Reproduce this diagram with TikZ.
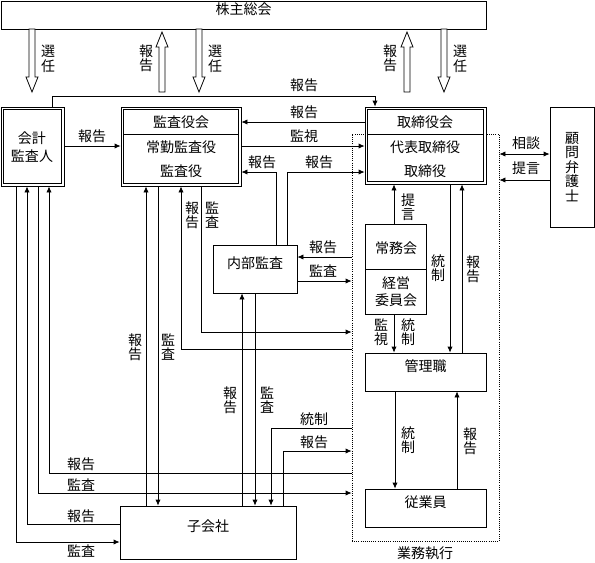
\documentclass[tikz,border=0pt]{standalone}
\usepackage{fontspec}
\setmainfont{Noto Sans CJK JP}
\usetikzlibrary{arrows.meta,fit}
\newcommand\hollowdown[3]{\draw[ln, fill=white] ({#1-3},#2) -- ({#1-3},{#3-15}) -- ({#1-6},{#3-15}) -- (#1,#3) -- ({#1+6},{#3-15}) -- ({#1+3},{#3-15}) -- ({#1+3},#2) -- cycle;}
\newcommand\hollowup[3]{\draw[ln, fill=white] ({#1-3},#2) -- ({#1-3},{#3+15}) -- ({#1-6},{#3+15}) -- (#1,#3) -- ({#1+6},{#3+15}) -- ({#1+3},{#3+15}) -- ({#1+3},#2) -- cycle;}
\newcommand\innerframe[1]{\draw[ln] ([shift={(2.2pt,-2.2pt)}]#1.north west) rectangle ([shift={(-2.2pt,2.2pt)}]#1.south east);}
\begin{document}
\begin{tikzpicture}[x=0.75pt,y=-0.75pt, font=\fontsize{10.5}{11}\selectfont,
 ln/.style={line width=0.6pt},
 box/.style={draw, fill=white, line width=0.6pt, inner sep=0pt},
 arr/.style={ln, -{Latex[length=4.5pt,width=4pt]}},
 arrb/.style={ln, {Latex[length=4.5pt,width=4pt]}-{Latex[length=4.5pt,width=4pt]}},
 lab/.style={inner sep=0pt, align=center},
 vlab/.style={lab, font=\fontsize{10.5}{10.8}\selectfont},
]
\useasboundingbox (0,0) rectangle (595,562);
% execution region
\node[draw, densely dotted, line width=0.6pt, inner sep=0pt, fit={(352,134) (499,541)}] (gyomu) {};
\node[lab] (gyomulab) at (425,553) {業務執行};
% boxes
\node[box, fit={(1,1) (486,29)}] (soukai) {株主総会};
\node[box, fit={(1,107) (64,186)}] (kaikei) {};
\innerframe{kaikei}
\node[lab, font=\fontsize{10.5}{14}\selectfont] (kaikeit) at (32,147) {会計\\監査人};
\node[box, fit={(121,107) (241,186)}] (kansa) {};
\innerframe{kansa}
\draw[ln] (124,134) -- (238,134);
\node[lab] (kansat1) at (181,122) {監査役会};
\node[lab] (kansat2) at (181,147) {常勤監査役};
\node[lab] (kansat3) at (181,171) {監査役};
\node[box, fit={(365,107) (486,184)}] (tori) {};
\innerframe{tori}
\draw[ln] (368,134) -- (483,134);
\node[lab] (torit1) at (425,122) {取締役会};
\node[lab] (torit2) at (425,147) {代表取締役};
\node[lab] (torit3) at (425,171) {取締役};
\node[box, fit={(550,107) (594,227)}] (komon) {};
\node[vlab] (komont) at (572,167) {顧\\問\\弁\\護\\士};
\node[box, fit={(213,245) (297,293)}] (naibu) {内部監査};
\node[box, fit={(365,224) (426,314)}] (jomu) {};
\draw[ln] (365,269) -- (426,269);
\node[lab] (jomut1) at (396,248) {常務会};
\node[lab, font=\fontsize{10.5}{12.5}\selectfont] (jomut2) at (396,292) {経営\\委員会};
\node[box, fit={(365,353) (486,391)}] (kanri) {管理職};
\node[box, fit={(365,489) (486,527)}] (jugyo) {従業員};
\node[box, fit={(120,506) (296,559)}] (kogai) {子会社};
% hollow arrows
\hollowdown{32}{29}{92}
\hollowup{162}{92}{32}
\hollowdown{199}{29}{92}
\hollowup{407}{92}{32}
\hollowdown{444}{29}{92}
\node[vlab] (l1) at (48,59) {選\\任};
\node[vlab] (l2) at (146,58) {報\\告};
\node[vlab] (l3) at (215,59) {選\\任};
\node[vlab] (l4) at (390,58) {報\\告};
\node[vlab] (l5) at (460,59) {選\\任};
% top connectors
\draw[arr] (kaikei.north -| 52,0) |- (375,96) -- (tori.north -| 375,0);
\node[lab] (l6) at (304,85) {報告};
\draw[arr] (tori.west |- 0,122) -- (kansa.east |- 0,122);
\node[lab] (l7) at (304,112) {報告};
\draw[arr] (kansa.east |- 0,146) -- (tori.west |- 0,146);
\node[lab] (l8) at (304,136) {監視};
\draw[arr] (kaikei.east |- 0,146) -- (kansa.west |- 0,146);
\node[lab] (l9) at (92,136) {報告};
\draw[arr] (naibu.north -| 276,0) |- (kansa.east |- 0,172);
\node[lab] (l10) at (262,162) {報告};
\draw[arr] (naibu.north -| 287,0) |- (tori.west |- 0,172);
\node[lab] (l11) at (319,162) {報告};
\draw[arr] (gyomu.west |- 0,257) -- (naibu.east |- 0,257);
\node[lab] (l12) at (323,247) {報告};
\draw[arr] (naibu.east |- 0,281) -- (gyomu.west |- 0,281);
\node[lab] (l13) at (323,271) {監査};
\draw[arrb] (gyomu.east |- 0,154) -- (komon.west |- 0,154);
\node[lab] (l14) at (526,143) {相談};
\draw[arr] (komon.west |- 0,180) -- (gyomu.east |- 0,180);
\node[lab] (l15) at (526,168) {提言};
% kansa bottom
\draw[arr] (kogai.north -| 146,0) -- (kansa.south -| 146,0);
\draw[arr] (kansa.south -| 158,0) -- (kogai.north -| 158,0);
\node[vlab] (l16) at (135,347) {報\\告};
\node[vlab] (l17) at (168,347) {監\\査};
\draw[arr] (gyomu.west |- 0,349) -| (kansa.south -| 181,0);
\draw[arr] (kansa.south -| 201,0) |- (gyomu.west |- 0,332);
\node[vlab] (l18) at (192,215) {報\\告};
\node[vlab] (l19) at (212,215) {監\\査};
% naibu bottom
\draw[arr] (kogai.north -| 242,0) -- (naibu.south -| 242,0);
\draw[arr] (naibu.south -| 255,0) -- (kogai.north -| 255,0);
\node[vlab] (l20) at (230,400) {報\\告};
\node[vlab] (l21) at (267,400) {監\\査};
% gyomu - kogaisha
\draw[arr] (gyomu.west |- 0,428) -| (kogai.north -| 271,0);
\node[lab] (l22) at (314,419) {統制};
\draw[arr] (kogai.north -| 283,0) |- (gyomu.west |- 0,451);
\node[lab] (l23) at (314,442) {報告};
% kaikei bottom
\draw[arr] (gyomu.west |- 0,473) -| (kaikei.south -| 49,0);
\node[lab] (l24) at (81,464) {報告};
\draw[arr] (kaikei.south -| 38,0) |- (gyomu.west |- 0,493);
\node[lab] (l25) at (81,485) {監査};
\draw[arr] (kogai.west |- 0,524) -| (kaikei.south -| 27,0);
\node[lab] (l26) at (81,516) {報告};
\draw[arr] (kaikei.south -| 16,0) |- (kogai.west |- 0,542);
\node[lab] (l27) at (81,551) {監査};
% inside gyomu
\draw[arr] (jomu.north -| 394,0) -- (tori.south -| 394,0);
\node[vlab] (l28) at (408,207) {提\\言};
\draw[arr] (tori.south -| 450,0) -- (kanri.north -| 450,0);
\node[vlab] (l29) at (438,268) {統\\制};
\draw[arr] (kanri.north -| 462,0) -- (tori.south -| 462,0);
\node[vlab] (l30) at (473,269) {報\\告};
\draw[arr] (jomu.south -| 394,0) -- (kanri.north -| 394,0);
\node[vlab] (l31) at (381,332) {監\\視};
\node[vlab] (l32) at (408,332) {統\\制};
\draw[arr] (kanri.south -| 395,0) -- (jugyo.north -| 395,0);
\node[vlab] (l33) at (408,440) {統\\制};
\draw[arr] (jugyo.north -| 457,0) -- (kanri.south -| 457,0);
\node[vlab] (l34) at (470,441) {報\\告};
\end{tikzpicture}
\end{document}
